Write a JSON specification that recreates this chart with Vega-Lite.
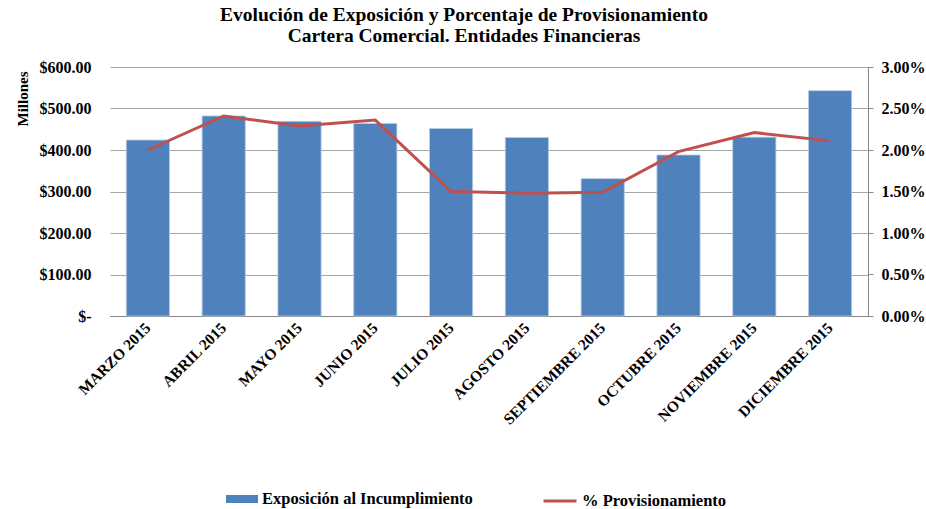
{
  "$schema": "https://vega.github.io/schema/vega-lite/v6.json",
  "autosize": {"type": "none"},
  "width": 758,
  "height": 249,
  "padding": {"left": 110, "top": 67, "right": 58, "bottom": 193},
  "background": "white",
  "config": {
    "font": "Liberation Serif",
    "view": {"stroke": null},
    "axis": {"labelFont": "Liberation Serif", "labelFontWeight": "bold", "labelColor": "black", "titleFont": "Liberation Serif", "titleColor": "black"},
    "legend": {"labelFont": "Liberation Serif", "labelFontWeight": "bold", "labelColor": "black", "labelFontSize": 16.5, "labelLimit": 0, "padding": 0}
  },
  "title": {
    "text": ["Evolución de Exposición y Porcentaje de Provisionamiento", "Cartera Comercial. Entidades Financieras"],
    "font": "Liberation Serif",
    "fontSize": 19.5,
    "fontWeight": "bold",
    "color": "black",
    "anchor": "middle",
    "dx": -25,
    "offset": 13,
    "lineHeight": 21
  },
  "data": {
    "values": [
      {"mes": "MARZO 2015", "exposicion": 424, "prov": 0.0200},
      {"mes": "ABRIL 2015", "exposicion": 482, "prov": 0.0241},
      {"mes": "MAYO 2015", "exposicion": 469, "prov": 0.0229},
      {"mes": "JUNIO 2015", "exposicion": 464, "prov": 0.0236},
      {"mes": "JULIO 2015", "exposicion": 452, "prov": 0.0150},
      {"mes": "AGOSTO 2015", "exposicion": 430, "prov": 0.0148},
      {"mes": "SEPTIEMBRE 2015", "exposicion": 331, "prov": 0.0149},
      {"mes": "OCTUBRE 2015", "exposicion": 388, "prov": 0.0198},
      {"mes": "NOVIEMBRE 2015", "exposicion": 431, "prov": 0.0221},
      {"mes": "DICIEMBRE 2015", "exposicion": 543, "prov": 0.0211}
    ]
  },
  "encoding": {
    "x": {
      "field": "mes",
      "type": "nominal",
      "sort": null,
      "scale": {"paddingInner": 0.43, "paddingOuter": 0.215},
      "axis": {
        "title": null,
        "labelAngle": -45,
        "labelAlign": "right",
        "labelBaseline": "middle",
        "labelFontSize": 15.5,
        "labelPadding": 9,
        "labelLimit": 0,
        "ticks": false,
        "domainColor": "#868686",
        "grid": false
      }
    }
  },
  "layer": [
    {
      "mark": {"type": "bar", "stroke": "#B9CDE5", "strokeWidth": 0.8},
      "encoding": {
        "y": {
          "field": "exposicion",
          "type": "quantitative",
          "scale": {"domain": [0, 600], "nice": false},
          "axis": {
            "title": "Millones",
            "titleFontSize": 15,
            "titleFontWeight": "bold",
            "titleAngle": -90,
            "titleAlign": "right",
            "titleBaseline": "middle",
            "titleX": -88,
            "titleY": 4,
            "values": [0, 100, 200, 300, 400, 500, 600],
            "labelExpr": "datum.value == 0 ? '$-' : '$' + format(datum.value, ',.2f')",
            "labelFontSize": 16,
            "labelPadding": 19,
            "ticks": false,
            "domain": false,
            "grid": true,
            "gridColor": "#A6A6A6",
            "gridWidth": 1
          }
        },
        "fill": {
          "datum": "Exposición al Incumplimiento",
          "scale": {"range": ["#4F81BD"]},
          "legend": {
            "title": null,
            "orient": "none",
            "legendX": 116,
            "legendY": 416,
            "symbolType": "M-1,-0.25H1V0.25H-1Z",
            "symbolSize": 1024,
            "symbolStrokeWidth": 0,
            "labelOffset": 4,
            "labelFont": "Liberation Serif",
            "labelFontWeight": "bold",
            "labelFontSize": 16.5
          }
        }
      }
    },
    {
      "mark": {"type": "line", "strokeWidth": 3},
      "encoding": {
        "y": {
          "field": "prov",
          "type": "quantitative",
          "scale": {"domain": [0, 0.03], "nice": false},
          "axis": {
            "title": null,
            "orient": "right",
            "values": [0, 0.005, 0.01, 0.015, 0.02, 0.025, 0.03],
            "format": ".2%",
            "labelFontSize": 16,
            "labelPadding": 8,
            "tickSize": 5,
            "tickColor": "#868686",
            "domainColor": "#868686",
            "grid": false
          }
        },
        "stroke": {
          "datum": "% Provisionamiento",
          "scale": {"range": ["#C0504D"]},
          "legend": {
            "title": null,
            "orient": "none",
            "legendX": 432,
            "legendY": 416,
            "symbolType": "stroke",
            "symbolSize": 1089,
            "symbolStrokeWidth": 3,
            "labelOffset": 4,
            "labelFont": "Liberation Serif",
            "labelFontWeight": "bold",
            "labelFontSize": 16.5
          }
        }
      }
    }
  ],
  "resolve": {"scale": {"y": "independent"}}
}
